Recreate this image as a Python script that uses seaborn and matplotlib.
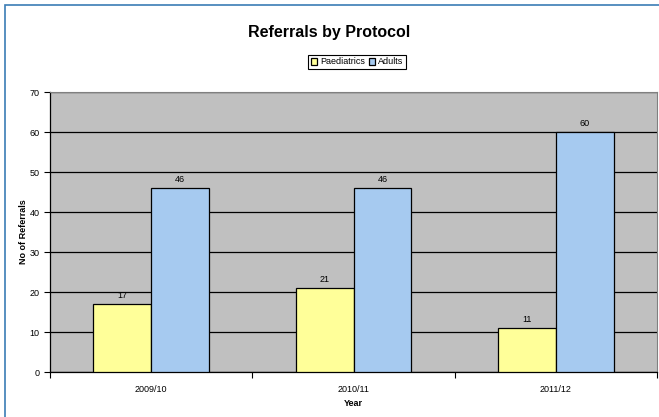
import pandas as pd
import numpy as np
import seaborn as sns
from matplotlib import pyplot as plt
from matplotlib.patches import Rectangle

years = ['2009/10', '2010/11', '2011/12']
paediatrics = [17, 21, 11]
adults = [46, 46, 60]
protocols = ['Paediatrics', 'Adults']
colors = ['#FFFF99', '#A6CAF0']


def main():
    df = pd.DataFrame({
        'Year': years * 2,
        'Referrals': paediatrics + adults,
        'Protocol': [protocols[0]] * 3 + [protocols[1]] * 3,
    })

    sns.set_style('white')
    plt.rcParams['font.family'] = ['Liberation Sans', 'DejaVu Sans']
    plt.rcParams.update({'text.color': 'black', 'axes.labelcolor': 'black',
                         'xtick.color': 'black', 'ytick.color': 'black'})

    fig = plt.figure(figsize=(6.59, 4.17), dpi=100)
    ax = fig.add_axes([50 / 659, 1 - 372 / 417, 607 / 659, 280 / 417])

    sns.barplot(data=df, x='Year', y='Referrals', hue='Protocol',
                palette=colors, width=0.573, edgecolor='black', linewidth=0.9,
                saturation=1, ax=ax, zorder=3)

    for c in ax.containers:
        ax.bar_label(c, padding=3, fontsize=6.5)

    ax.set_facecolor('#C0C0C0')
    ax.set_ylim(0, 70)
    ax.set_xlim(-0.5, 2.5)
    ax.set_yticks(range(0, 71, 10))
    ax.yaxis.grid(True, color='black', linewidth=0.9)
    ax.set_axisbelow(True)
    ax.set_xticks([-0.5, 0.5, 1.5, 2.5], minor=True)
    ax.tick_params(axis='x', which='major', length=0, labelsize=6.5, pad=9)
    ax.tick_params(axis='x', which='minor', length=4, width=0.8, color='black', direction='out', bottom=True)
    ax.tick_params(axis='y', length=4, width=0.8, color='black', direction='out', left=True, labelsize=6.5)

    for s in ['top', 'right']:
        ax.spines[s].set_color('#808080')
        ax.spines[s].set_linewidth(0.8)
    for s in ['left', 'bottom']:
        ax.spines[s].set_color('black')
        ax.spines[s].set_linewidth(0.9)

    ax.set_xlabel('Year', fontsize=6.5, fontweight='bold', labelpad=4)
    ax.set_ylabel('No of Referrals', fontsize=6.5, fontweight='bold', labelpad=1)

    ax.legend(loc='center', bbox_to_anchor=(357 / 659, 1 - 62 / 417), bbox_transform=fig.transFigure,
              ncol=2, fontsize=6.5, frameon=True, fancybox=False, edgecolor='black',
              handlelength=0.7, handleheight=0.7, handletextpad=0.3, columnspacing=0.4,
              borderpad=0.3, framealpha=1)
    ax.get_legend().get_frame().set_linewidth(0.8)

    fig.text(0.5, 1 - 32 / 417, 'Referrals by Protocol', ha='center', va='center',
             fontsize=11.5, fontweight='bold')

    fig.patches.append(Rectangle((5 / 659, -0.1), 1.1, 1 - 5 / 417 + 0.1,
                                 transform=fig.transFigure, fill=False,
                                 edgecolor='#3B7DB5', linewidth=1.2))

    fig.savefig('out.png', dpi=100)


if __name__ == '__main__':
    main()
